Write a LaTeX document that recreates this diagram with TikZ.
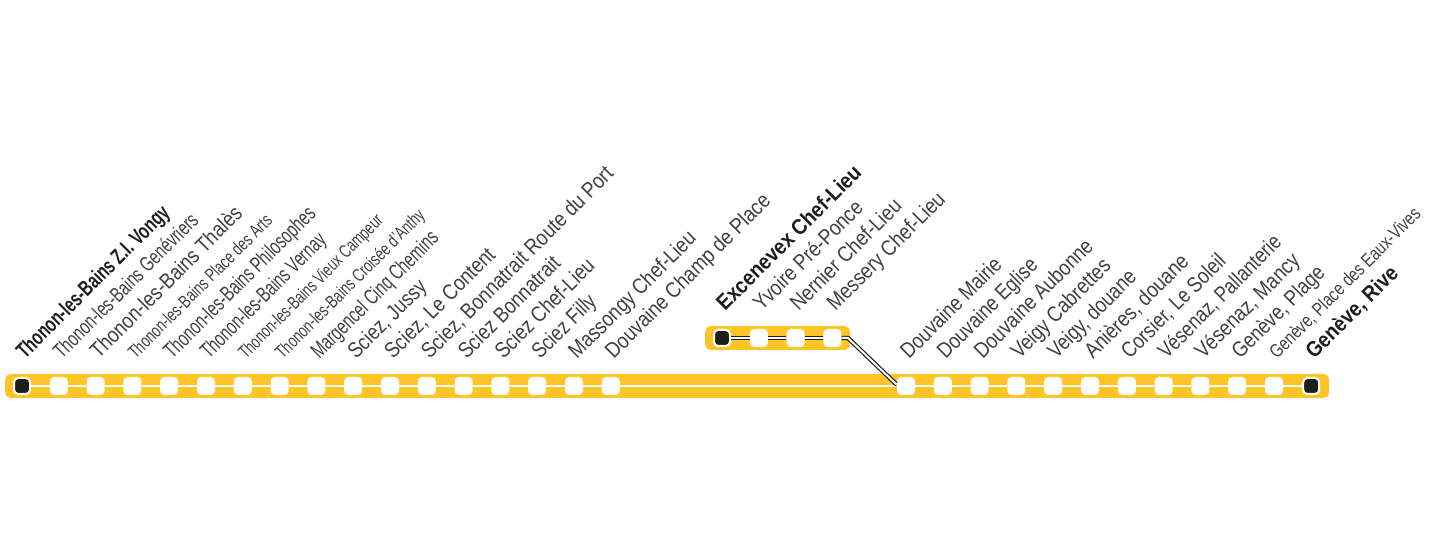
\documentclass[tikz,border=0pt]{standalone}
\usepackage{fontspec}
\setmainfont{Liberation Sans}
\usepackage{xcolor}
\definecolor{lineyellow}{HTML}{FFC428}
\definecolor{stopdark}{HTML}{1D1D1B}

\begin{document}
\begin{tikzpicture}[
    band/.style={rectangle, rounded corners=4pt, fill=lineyellow, inner sep=0pt},
    stopbox/.style={rectangle, rounded corners=3pt, fill=white, minimum size=4.5mm, inner sep=0pt},
    endbox/.style={rectangle, rounded corners=3pt, draw=white, line width=0.5mm, fill=stopdark, minimum size=4mm, inner sep=0pt},
    place/.style 2 args={rotate=45, anchor=base west, inner sep=0pt, xshift=5.13mm, yshift=4.07mm, xscale=#2, transform shape, text=stopdark!85, font=\fontsize{#1}{#1}\selectfont},
    boldplace/.style 2 args={place={#1}{#2}, text=stopdark, font=\fontsize{#1}{#1}\selectfont\bfseries},
    whiteline/.style={white, line width=0.5mm},
    blackline/.style={stopdark, line width=0.3mm, double=white, double distance=0.5mm}
]
\useasboundingbox (0,0) rectangle (36,13.75);
\node[band, minimum width=33.1cm, minimum height=6mm] (mainband) at (16.68,4.1) {};
\node[band, minimum width=3.625cm, minimum height=6mm] (topband) at (19.44,5.3) {};

\coordinate (bendtop) at (21.2,5.3);
\coordinate (bendlow) at (22.4,4.15);

\node[endbox] (s1) at (0.55,4.1) {};
\node[stopbox] (s2) at (1.47,4.1) {};
\node[stopbox] (s3) at (2.39,4.1) {};
\node[stopbox] (s4) at (3.31,4.1) {};
\node[stopbox] (s5) at (4.23,4.1) {};
\node[stopbox] (s6) at (5.15,4.1) {};
\node[stopbox] (s7) at (6.07,4.1) {};
\node[stopbox] (s8) at (6.99,4.1) {};
\node[stopbox] (s9) at (7.91,4.1) {};
\node[stopbox] (s10) at (8.83,4.1) {};
\node[stopbox] (s11) at (9.75,4.1) {};
\node[stopbox] (s12) at (10.67,4.1) {};
\node[stopbox] (s13) at (11.59,4.1) {};
\node[stopbox] (s14) at (12.51,4.1) {};
\node[stopbox] (s15) at (13.43,4.1) {};
\node[stopbox] (s16) at (14.35,4.1) {};
\node[stopbox] (s17) at (15.27,4.1) {};

\node[stopbox] (s18) at (22.65,4.1) {};
\node[stopbox] (s19) at (23.57,4.1) {};
\node[stopbox] (s20) at (24.49,4.1) {};
\node[stopbox] (s21) at (25.41,4.1) {};
\node[stopbox] (s22) at (26.33,4.1) {};
\node[stopbox] (s23) at (27.25,4.1) {};
\node[stopbox] (s24) at (28.17,4.1) {};
\node[stopbox] (s25) at (29.09,4.1) {};
\node[stopbox] (s26) at (30.01,4.1) {};
\node[stopbox] (s27) at (30.93,4.1) {};
\node[stopbox] (s28) at (31.85,4.1) {};
\node[endbox] (s29) at (32.78,4.1) {};

\node[endbox] (t1) at (18.05,5.3) {};
\node[stopbox] (t2) at (18.97,5.3) {};
\node[stopbox] (t3) at (19.89,5.3) {};
\node[stopbox] (t4) at (20.81,5.3) {};

\draw[whiteline] (s1) -- (s2);
\draw[whiteline] (s2) -- (s3);
\draw[whiteline] (s3) -- (s4);
\draw[whiteline] (s4) -- (s5);
\draw[whiteline] (s5) -- (s6);
\draw[whiteline] (s6) -- (s7);
\draw[whiteline] (s7) -- (s8);
\draw[whiteline] (s8) -- (s9);
\draw[whiteline] (s9) -- (s10);
\draw[whiteline] (s10) -- (s11);
\draw[whiteline] (s11) -- (s12);
\draw[whiteline] (s12) -- (s13);
\draw[whiteline] (s13) -- (s14);
\draw[whiteline] (s14) -- (s15);
\draw[whiteline] (s15) -- (s16);
\draw[whiteline] (s16) -- (s17);
\draw[whiteline] (s17) -- (s18);
\draw[whiteline] (s18) -- (s19);
\draw[whiteline] (s19) -- (s20);
\draw[whiteline] (s20) -- (s21);
\draw[whiteline] (s21) -- (s22);
\draw[whiteline] (s22) -- (s23);
\draw[whiteline] (s23) -- (s24);
\draw[whiteline] (s24) -- (s25);
\draw[whiteline] (s25) -- (s26);
\draw[whiteline] (s26) -- (s27);
\draw[whiteline] (s27) -- (s28);
\draw[whiteline] (s28) -- (s29);
\draw[blackline] (t1) -- (t2);
\draw[blackline] (t2) -- (t3);
\draw[blackline] (t3) -- (t4);
\draw[blackline] (t4) -- (bendtop) -- (bendlow) -- (s18);

\node[boldplace={15.5}{.704}] (p1) at (s1) {Thonon-les-Bains Z.I. Vongy};
\node[place={15}{.711}] (p2) at (s2) {Thonon-les-Bains Genévriers};
\node[place={15.5}{.846}] (p3) at (s3) {Thonon-les-Bains Thalès};
\node[place={13}{.733}] (p4) at (s4) {Thonon-les-Bains Place des Arts};
\node[place={15.5}{.692}] (p5) at (s5) {Thonon-les-Bains Philosophes};
\node[place={15.5}{.684}] (p6) at (s6) {Thonon-les-Bains Vernay};
\node[place={13}{.713}] (p7) at (s7) {Thonon-les-Bains Vieux Campeur};
\node[place={13}{.73}] (p8) at (s8) {Thonon-les-Bains Croisée d'Anthy};
\node[place={15.5}{.695}] (p9) at (s9) {Margencel Cinq Chemins};
\node[place={15.5}{.836}] (p10) at (s10) {Sciez, Jussy};
\node[place={15.5}{.849}] (p11) at (s11) {Sciez, Le Content};
\node[place={15.5}{.855}] (p12) at (s12) {Sciez, Bonnatrait Route du Port};
\node[place={15.5}{.846}] (p13) at (s13) {Sciez Bonnatrait};
\node[place={15.5}{.85}] (p14) at (s14) {Sciez Chef-Lieu};
\node[place={15.5}{.822}] (p15) at (s15) {Sciez Filly};
\node[place={15.5}{.85}] (p16) at (s16) {Massongy Chef-Lieu};
\node[place={15.5}{.861}] (p17) at (s17) {Douvaine Champ de Place};

\node[place={15.5}{.843}] (p18) at (s18) {Douvaine Mairie};
\node[place={15.5}{.836}] (p19) at (s19) {Douvaine Eglise};
\node[place={15.5}{.853}] (p20) at (s20) {Douvaine Aubonne};
\node[place={15.5}{.85}] (p21) at (s21) {Veigy Cabrettes};
\node[place={15.5}{.842}] (p22) at (s22) {Veigy, douane};
\node[place={15.5}{.863}] (p23) at (s23) {Anières, douane};
\node[place={15.5}{.834}] (p24) at (s24) {Corsier, Le Soleil};
\node[place={15.5}{.821}] (p25) at (s25) {Vésenaz, Pallanterie};
\node[place={15.5}{.856}] (p26) at (s26) {Vésenaz, Mancy};
\node[place={15.5}{.841}] (p27) at (s27) {Genève, Plage};
\node[place={13.5}{.783}] (p28) at (s28) {Genève, Place des Eaux-Vives};
\node[boldplace={15.5}{.88}] (p29) at (s29) {Genève, Rive};

\node[boldplace={15.5}{.888}] (q1) at (t1) {Excenevex Chef-Lieu};
\node[place={15.5}{.854}] (q2) at (t2) {Yvoire Pré-Ponce};
\node[place={15.5}{.857}] (q3) at (t3) {Nernier Chef-Lieu};
\node[place={15.5}{.858}] (q4) at (t4) {Messery Chef-Lieu};
\end{tikzpicture}
\end{document}
